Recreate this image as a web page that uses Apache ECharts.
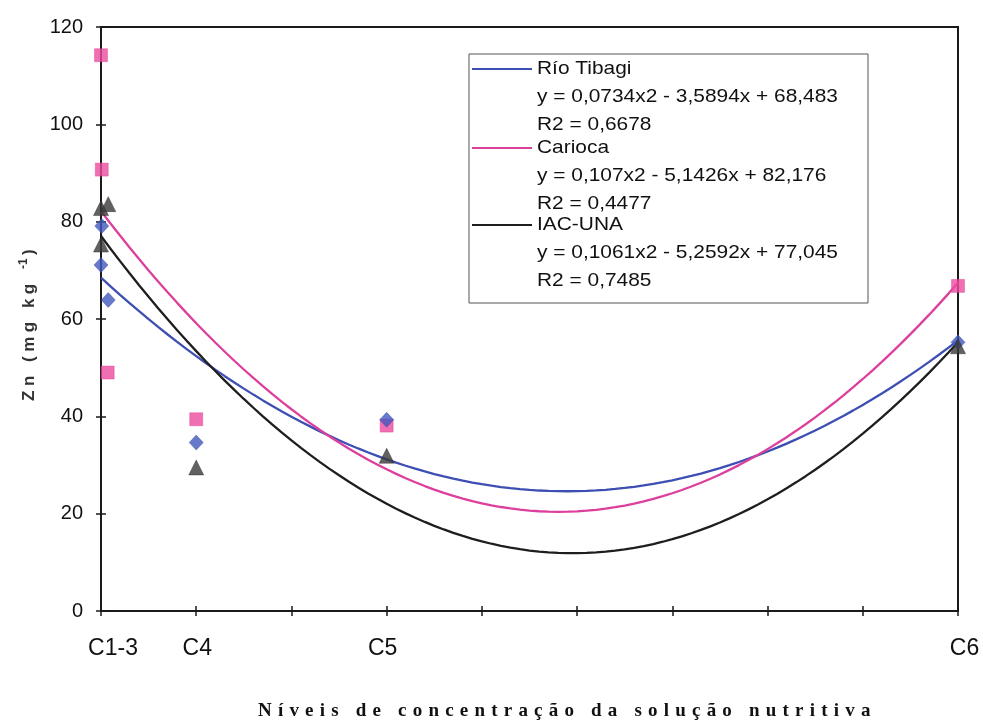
<!DOCTYPE html>
<html>
<head>
<meta charset="utf-8">
<title>Zn</title>
<script src="https://cdn.jsdelivr.net/npm/echarts@6/dist/echarts.min.js"></script>
<style>
  html, body { margin: 0; padding: 0; background: #fff; }
  #chart { width: 983px; height: 722px; }
</style>
</head>
<body>
<div id="chart"></div>
<script>
// Concentration levels: axis positions and their labels
const tickPositions = [0, 5, 15, 45];
const tickLabels = ['C1-3', 'C4', 'C5', 'C6'];

// Cultivar names
const cultivars = ['Río Tibagi', 'Carioca', 'IAC-UNA'];

// Observed Zn contents (mg kg-1)
const xRioTibagi = [0.04, 0, 0.38, 5, 15, 45];
const yRioTibagi = [79.1, 71.1, 63.9, 34.6, 39.3, 55.2];
const xCarioca = [0, 0.04, 0.35, 5, 15, 45];
const yCarioca = [114.2, 90.7, 49.0, 39.4, 38.1, 66.8];
const xIacUna = [0, 0.38, 0, 5, 15, 45];
const yIacUna = [82.8, 83.6, 75.3, 29.5, 31.9, 54.4];

// Quadratic trend coefficients [a, b, c] for y = a x2 + b x + c, and R2
const trendRioTibagi = [0.0734, -3.5894, 68.483];
const trendCarioca = [0.107, -5.1426, 82.176];
const trendIacUna = [0.1061, -5.2592, 77.045];
const r2Values = [0.6678, 0.4477, 0.7485];

const AXIS_TITLE = 'Níveis de concentração da solução nutritiva';
const Y_TITLE = 'Zn (mg kg';
const Y_TITLE_SUP = '-1';

// Spaced lettering for the axis titles: glyphs are laid out one by one
const SPACED_TEXT = new Map([[AXIS_TITLE, 6.2], [Y_TITLE, 4.5]]);
const nativeFillText = CanvasRenderingContext2D.prototype.fillText;
CanvasRenderingContext2D.prototype.fillText = function (text, x, y, maxWidth) {
  const spacing = SPACED_TEXT.get(text);
  if (spacing !== undefined) {
    this.save();
    this.textAlign = 'left';
    let cx = x;
    for (const ch of text) {
      nativeFillText.call(this, ch, cx, y);
      cx += this.measureText(ch).width + spacing;
    }
    this.restore();
    return;
  }
  return maxWidth === undefined
    ? nativeFillText.call(this, text, x, y)
    : nativeFillText.call(this, text, x, y, maxWidth);
};

const COLORS = {
  blue: '#4157bd', blueLine: '#3d4fb2',
  pink: '#ec4a9f', pinkLine: '#dd3f9c',
  dark: '#3a3a3a', darkLine: '#1e1e1e'
};

function fmt(v) { return String(v).replace('.', ','); }
function equationText(t) {
  return 'y = ' + fmt(t[0]) + 'x2 - ' + fmt(-t[1]) + 'x + ' + fmt(t[2]);
}
function trendPoints(t) {
  const pts = [];
  for (let x = 0; x <= 45.0001; x += 0.5) {
    pts.push([x, t[0] * x * x + t[1] * x + t[2]]);
  }
  return pts;
}
function zip(xs, ys) { return xs.map((x, i) => [x, ys[i]]); }

const trends = [trendRioTibagi, trendCarioca, trendIacUna];
const lineColors = [COLORS.blueLine, COLORS.pinkLine, COLORS.darkLine];

// Legend box with series names, equations and R2
const legendRows = [69, 148, 225];
const legendElements = [{
  type: 'rect',
  shape: { x: 469, y: 54, width: 399, height: 249 },
  style: { fill: '#fff', stroke: '#555', lineWidth: 1 }
}];
const legendFont = { fontSize: 19, fontFamily: 'Liberation Sans, Arial, sans-serif', fill: '#111', textVerticalAlign: 'middle' };
cultivars.forEach((name, i) => {
  const y = legendRows[i];
  legendElements.push({
    type: 'line',
    shape: { x1: 472, y1: y, x2: 532, y2: y },
    style: { stroke: lineColors[i], lineWidth: 2 }
  });
  [name, equationText(trends[i]), 'R2 = ' + fmt(r2Values[i])].forEach((txt, k) => {
    legendElements.push({
      type: 'text', x: 537, y: y + k * 28, scaleX: 1.1,
      style: Object.assign({ text: txt }, legendFont)
    });
  });
});

const labelFont = { fontSize: 23, fontFamily: 'Liberation Sans, Arial', color: '#111' };
const labelRich = {
  c0: Object.assign({ padding: [0, 0, 0, 24] }, labelFont),
  c1: Object.assign({ padding: [0, 0, 0, 2] }, labelFont),
  c2: Object.assign({ padding: [0, 8, 0, 0] }, labelFont),
  c3: Object.assign({ padding: [0, 0, 0, 13] }, labelFont)
};

const axisLine = { lineStyle: { color: '#1a1a1a', width: 2 } };
const tickStyle = { lineStyle: { color: '#1a1a1a', width: 1.5 } };
const yTitleFont = { fontWeight: 'bold', fontFamily: 'Liberation Sans, Arial', fill: '#333', textAlign: 'left', textVerticalAlign: 'middle' };

const chart = echarts.init(document.getElementById('chart'), null, { renderer: 'canvas' });
chart.setOption({
  animation: false,
  backgroundColor: '#fff',
  grid: { left: 101, right: 25, top: 27, bottom: 111, show: true, borderColor: '#1a1a1a', borderWidth: 2 },
  xAxis: [{
    type: 'value', min: 0, max: 45, interval: 5,
    axisLine: axisLine,
    axisTick: Object.assign({ inside: false, length: 5 }, tickStyle),
    splitLine: { show: false },
    axisLabel: {
      margin: 26,
      formatter: v => {
        const i = tickPositions.indexOf(v);
        return i < 0 ? '' : '{c' + i + '|' + tickLabels[i] + '}';
      },
      rich: labelRich
    }
  }, {
    type: 'value', min: 0, max: 45, interval: 5, position: 'bottom',
    axisLine: { show: false },
    axisTick: Object.assign({ inside: true, length: 5 }, tickStyle),
    axisLabel: { show: false }, splitLine: { show: false }
  }],
  yAxis: [{
    type: 'value', min: 0, max: 120, interval: 20,
    axisLine: Object.assign({ show: true }, axisLine),
    axisTick: Object.assign({ show: true, inside: false, length: 5 }, tickStyle),
    splitLine: { show: false },
    axisLabel: { fontSize: 20, fontFamily: 'Liberation Sans, Arial', color: '#111', margin: 18 }
  }, {
    type: 'value', min: 0, max: 120, interval: 20, position: 'left',
    axisLine: { show: false },
    axisTick: Object.assign({ show: true, inside: true, length: 5 }, tickStyle),
    axisLabel: { show: false }, splitLine: { show: false }
  }],
  series: [
    ...cultivars.map((name, i) => ({
      name: name + ' (tendência)', type: 'line', data: trendPoints(trends[i]),
      showSymbol: false, symbol: 'none', z: 2,
      lineStyle: { color: lineColors[i], width: 2.3 }
    })),
    {
      name: cultivars[1], type: 'scatter', data: zip(xCarioca, yCarioca), clip: false, z: 4,
      symbol: 'rect', symbolSize: 13,
      itemStyle: { color: COLORS.pink, borderColor: '#e23d94', borderWidth: 0.5 }
    },
    {
      name: cultivars[0], type: 'scatter', data: zip(xRioTibagi, yRioTibagi), clip: false, z: 4,
      symbol: 'diamond', symbolSize: [14, 15],
      itemStyle: { color: COLORS.blue, borderColor: '#34479f', borderWidth: 0.5 }
    },
    {
      name: cultivars[2], type: 'scatter', data: zip(xIacUna, yIacUna), clip: false, z: 4,
      symbol: 'triangle', symbolSize: 15,
      itemStyle: { color: COLORS.dark, borderColor: '#222', borderWidth: 0.5 }
    }
  ],
  graphic: [
    { type: 'group', z: 100, children: legendElements },
    {
      type: 'text', x: 258, y: 711, z: 100,
      style: {
        text: AXIS_TITLE, fontSize: 19, fontWeight: 'bold',
        fontFamily: 'Liberation Serif, Times New Roman, serif', fill: '#111',
        textAlign: 'left', textVerticalAlign: 'middle'
      }
    },
    {
      type: 'group', x: 29, y: 401, rotation: Math.PI / 2, z: 100,
      children: [
        { type: 'text', x: 0, y: 0, style: Object.assign({ text: Y_TITLE, fontSize: 17 }, yTitleFont) },
        { type: 'text', x: 132, y: -5, style: Object.assign({ text: Y_TITLE_SUP, fontSize: 12 }, yTitleFont) },
        { type: 'text', x: 146, y: 0, style: Object.assign({ text: ')', fontSize: 17 }, yTitleFont) }
      ]
    }
  ]
});
</script>
</body>
</html>
